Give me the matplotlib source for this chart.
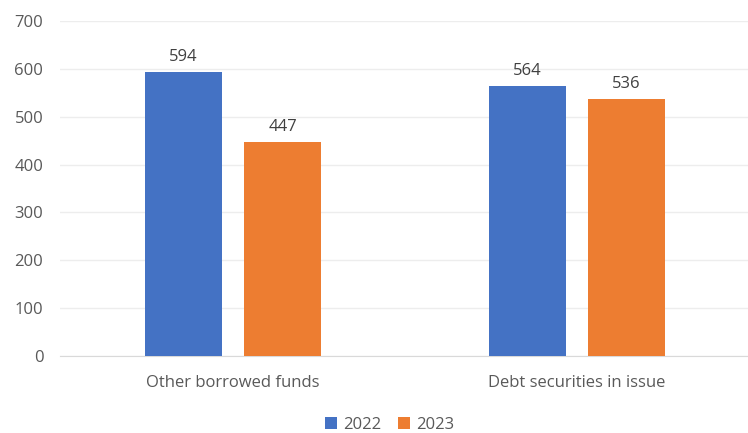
import matplotlib
matplotlib.use("Agg")
import matplotlib.pyplot as plt
import numpy as np

categories = ["Other borrowed funds", "Debt securities in issue"]
series_names = ["2022", "2023"]
values_2022 = [594, 564]
values_2023 = [447, 536]
yticks = [0, 100, 200, 300, 400, 500, 600, 700]

plt.rcParams['font.family'] = ['Open Sans', 'DejaVu Sans']
text_color = "#595959"
colors = ["#4472C4", "#ED7D31"]

fig = plt.figure(figsize=(7.48, 4.33), dpi=100)
ax = fig.add_axes([0.0802, 0.1778, 0.9198, 0.7737])

x = np.arange(len(categories))
width = 0.225
offset = 0.1445
for vals, name, col, off in [(values_2022, series_names[0], colors[0], -offset),
                             (values_2023, series_names[1], colors[1], offset)]:
    bars = ax.bar(x + off + 0.003, vals, width, color=col, label=name, zorder=3)
    for b, v in zip(bars, vals):
        ax.text(b.get_x() + b.get_width() / 2, v + 15, str(v), ha="center", va="bottom",
                fontsize=12, color="#404040")

ax.set_xlim(-0.5, len(categories) - 0.5)
ax.set_ylim(0, 700)
ax.set_yticks(yticks)
ax.set_xticks(x + 0.003)
ax.set_xticklabels(categories)
ax.grid(axis="y", color="#EDEDED", linewidth=1, zorder=0)
for s in ["top", "right", "left"]:
    ax.spines[s].set_visible(False)
ax.spines["bottom"].set_color("#D9D9D9")
ax.tick_params(axis="both", length=0, colors=text_color, labelsize=12)
ax.tick_params(axis="y", pad=12)
ax.tick_params(axis="x", pad=14)

fig.legend(loc="lower center", ncol=2, frameon=False, fontsize=12, labelcolor=text_color,
           handlelength=0.7, handleheight=0.7, handletextpad=0.4, columnspacing=1.0,
           bbox_to_anchor=(0.521, -0.035))

fig.savefig("out.png", dpi=100)
